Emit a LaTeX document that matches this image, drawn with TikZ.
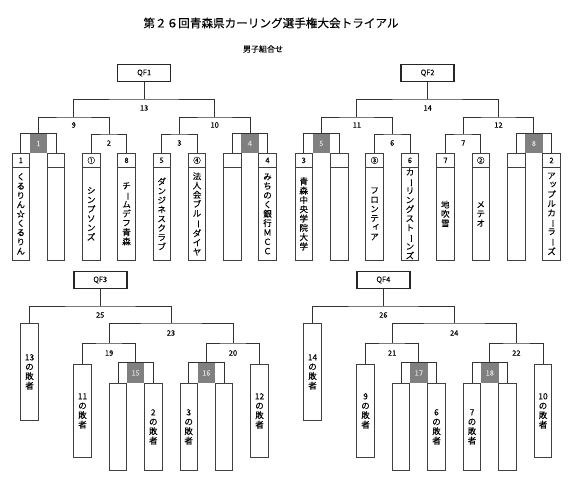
\documentclass[tikz,border=0pt]{standalone}
\usepackage{fontspec}
\usepackage{graphicx}
\setmainfont{Noto Sans CJK JP}[FakeBold=0.12]
\usetikzlibrary{calc}
\newcommand\vl{\rotatebox[origin=c]{-90}{ー}}
\newcommand\sk[1]{\makebox[8.5pt][l]{\hspace{1.6pt}\raisebox{1.6pt}{#1}}}
\newcommand\team[4]{%
  \node[hdr] (#1h) at (#2,153) {#3};
  \node[bod] (#1b) at (#2,167) {#4};}
\begin{document}
\begin{tikzpicture}[x=1pt,y=-1pt,line width=0.75pt,
  ln/.style={draw=black!80},
  qf/.style={draw=black!85,line width=1.5pt,minimum width=53pt,minimum height=17pt,inner sep=0pt,font=\fontsize{7.5}{9}\selectfont},
  hdr/.style={draw=black!75,minimum width=17.5pt,minimum height=14pt,inner sep=0pt,anchor=north,font=\fontsize{7.5}{9}\selectfont},
  bod/.style={draw=black!75,minimum width=17.5pt,minimum height=93pt,inner sep=0pt,anchor=north,align=center,font=\fontsize{8.5}{9.3}\selectfont},
  lbox/.style={draw=black!75,minimum width=17.5pt,inner sep=0pt,anchor=north,align=center,font=\fontsize{8.5}{9.5}\selectfont},
  gb/.style={fill=black!50,text=white!85!black,minimum width=17.5pt,inner sep=0pt,font=\fontsize{7.5}{9}\selectfont},
  lbl/.style={inner sep=0pt,font=\fontsize{7.5}{9}\selectfont}]
\useasboundingbox (0,0) rectangle (569,480);

% titles
\node[inner sep=0pt,font=\fontsize{11.6}{13}\selectfont] (title) at (271,23) {第２６回青森県カーリング選手権大会トライアル};
\node[inner sep=0pt,font=\fontsize{8}{9}\selectfont] (sub) at (263,49) {男子組合せ};

% ================= QF1 =================
\node[qf] (qf1) at (144.15,73) {QF1};
\team{a1}{20.75}{1}{く\\る\\り\\ん\\☆\\く\\る\\り\\ん}
\team{a2}{56}{}{}
\team{a3}{91.25}{①}{シ\\ン\\プ\\ソ\\ン\\ズ}
\team{a4}{126.5}{8}{チ\\\vl\\ム\\デ\\フ\\青\\森}
\team{a5}{161.75}{5}{ダ\\ン\\ジ\\ネ\\ス\\ク\\ラ\\ブ}
\team{a6}{197}{④}{法\\人\\会\\ブ\\ル\\\vl\\ダ\\イ\\ヤ}
\team{a7}{232.25}{}{}
\team{a8}{267.5}{4}{み\\ち\\の\\く\\銀\\行\\Ｍ\\Ｃ\\Ｃ}
\node[gb,minimum height=19pt] (g1) at (38.4,143.5) {1};
\node[gb,minimum height=19pt] (g4) at (249.9,143.5) {4};
\coordinate (j2) at (108.9,134);
\coordinate (j3) at (179.4,134);
\coordinate (j9) at (73.65,117);
\coordinate (j10) at (214.65,117);
\coordinate (j13) at (144.15,99);
\draw[ln] (a1h.north) |- (g1.north) -| (a2h.north);
\draw[ln] (a3h.north) |- (j2) -| (a4h.north);
\draw[ln] (a5h.north) |- (j3) -| (a6h.north);
\draw[ln] (a7h.north) |- (g4.north) -| (a8h.north);
\draw[ln] (g1.north) |- (j9) -| (j2);
\draw[ln] (j3) |- (j10) -| (g4.north);
\draw[ln] (j9) |- (j13) -| (j10);
\draw[ln] (j13) -- (qf1.south);
\node[lbl] (l2) at (108.9,143) {2};
\node[lbl] (l3) at (179.4,143) {3};
\node[lbl] (l9) at (73.65,125) {9};
\node[lbl] (l10) at (214.65,125) {10};
\node[lbl] (l13) at (144.15,108) {13};

% ================= QF2 =================
\node[qf] (qf2) at (427.65,73) {QF2};
\team{b1}{303.75}{3}{青\\森\\中\\央\\学\\院\\大\\学}
\team{b2}{339.15}{}{}
\team{b3}{374.55}{③}{フ\\ロ\\ン\\テ\\\sk{ィ}\\ア}
\team{b4}{409.95}{6}{\fontsize{8.5}{8.8}\selectfont カ\\\vl\\リ\\ン\\グ\\ス\\ト\\\vl\\ン\\ズ}
\team{b5}{445.35}{7}{地\\吹\\雪}
\team{b6}{480.75}{②}{メ\\テ\\オ}
\team{b7}{516.15}{}{}
\team{b8}{551.55}{2}{ア\\\sk{ッ}\\プ\\ル\\カ\\\vl\\ラ\\\vl\\ズ}
\node[gb,minimum height=19pt] (g5) at (321.45,143.5) {5};
\node[gb,minimum height=19pt] (g8) at (533.85,143.5) {8};
\coordinate (j6) at (392.25,134);
\coordinate (j7) at (463.05,134);
\coordinate (j11) at (356.85,117);
\coordinate (j12) at (498.45,117);
\coordinate (j14) at (427.65,99);
\draw[ln] (b1h.north) |- (g5.north) -| (b2h.north);
\draw[ln] (b3h.north) |- (j6) -| (b4h.north);
\draw[ln] (b5h.north) |- (j7) -| (b6h.north);
\draw[ln] (b7h.north) |- (g8.north) -| (b8h.north);
\draw[ln] (g5.north) |- (j11) -| (j6);
\draw[ln] (j7) |- (j12) -| (g8.north);
\draw[ln] (j11) |- (j14) -| (j12);
\draw[ln] (j14) -- (qf2.south);
\node[lbl] (l6) at (392.25,143) {6};
\node[lbl] (l7) at (463.05,143) {7};
\node[lbl] (l11) at (356.85,125) {11};
\node[lbl] (l12) at (498.45,125) {12};
\node[lbl] (l14) at (427.65,108) {14};

% ================= QF3 =================
\node[qf] (qf3) at (100.25,280) {QF3};
\node[lbox,minimum height=97pt] (e0) at (29.5,323) {13\\の\\敗\\者};
\node[lbox,minimum height=93pt] (e1) at (82.5,364) {11\\の\\敗\\者};
\node[lbox,minimum height=87pt] (e2) at (117.9,383) {};
\node[lbox,minimum height=87pt] (e3) at (153.3,383) {2\\の\\敗\\者};
\node[lbox,minimum height=87pt] (e4) at (188.7,383) {3\\の\\敗\\者};
\node[lbox,minimum height=87pt] (e5) at (224.1,383) {};
\node[lbox,minimum height=93pt] (e6) at (259.5,364) {12\\の\\敗\\者};
\node[gb,minimum height=20pt] (g15) at (135.6,373) {15};
\node[gb,minimum height=20pt] (g16) at (206.4,373) {16};
\coordinate (j19) at (109.05,343);
\coordinate (j20) at (232.95,343);
\coordinate (j23) at (171,323);
\coordinate (j25) at (100.25,306);
\draw[ln] (e2.north) |- (g15.north) -| (e3.north);
\draw[ln] (e4.north) |- (g16.north) -| (e5.north);
\draw[ln] (e1.north) |- (j19) -| (g15.north);
\draw[ln] (g16.north) |- (j20) -| (e6.north);
\draw[ln] (j19) |- (j23) -| (j20);
\draw[ln] (e0.north) |- (j25) -| (j23);
\draw[ln] (j25) -- (qf3.south);
\node[lbl] (l19) at (109.05,353) {19};
\node[lbl] (l20) at (232.95,353) {20};
\node[lbl] (l23) at (171,333) {23};
\node[lbl] (l25) at (100.25,315) {25};

% ================= QF4 =================
\node[qf] (qf4) at (383.4,280) {QF4};
\node[lbox,minimum height=97pt] (f0) at (312.5,323) {14\\の\\敗\\者};
\node[lbox,minimum height=93pt] (f1) at (365.5,364) {9\\の\\敗\\者};
\node[lbox,minimum height=87pt] (f2) at (401,383) {};
\node[lbox,minimum height=87pt] (f3) at (436.5,383) {6\\の\\敗\\者};
\node[lbox,minimum height=87pt] (f4) at (472,383) {7\\の\\敗\\者};
\node[lbox,minimum height=87pt] (f5) at (507.5,383) {};
\node[lbox,minimum height=93pt] (f6) at (543,364) {10\\の\\敗\\者};
\node[gb,minimum height=20pt] (g17) at (418.75,373) {17};
\node[gb,minimum height=20pt] (g18) at (489.75,373) {18};
\coordinate (j21) at (392.1,343);
\coordinate (j22) at (516.4,343);
\coordinate (j24) at (454.25,323);
\coordinate (j26) at (383.4,306);
\draw[ln] (f2.north) |- (g17.north) -| (f3.north);
\draw[ln] (f4.north) |- (g18.north) -| (f5.north);
\draw[ln] (f1.north) |- (j21) -| (g17.north);
\draw[ln] (g18.north) |- (j22) -| (f6.north);
\draw[ln] (j21) |- (j24) -| (j22);
\draw[ln] (f0.north) |- (j26) -| (j24);
\draw[ln] (j26) -- (qf4.south);
\node[lbl] (l21) at (392.1,353) {21};
\node[lbl] (l22) at (516.4,353) {22};
\node[lbl] (l24) at (454.25,333) {24};
\node[lbl] (l26) at (383.4,315) {26};
\end{tikzpicture}
\end{document}
